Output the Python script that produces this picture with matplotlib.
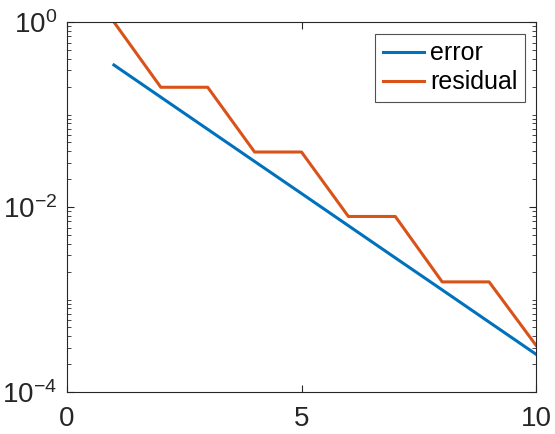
import matplotlib
matplotlib.use("Agg")
import matplotlib.pyplot as plt
from matplotlib.ticker import FixedLocator, NullFormatter

plt.rcParams['font.family'] = ['Liberation Sans', 'DejaVu Sans']
plt.rcParams['mathtext.fontset'] = 'custom'
plt.rcParams['mathtext.rm'] = 'Liberation Sans'
plt.rcParams['mathtext.it'] = 'Liberation Sans'
plt.rcParams['axes.unicode_minus'] = False

# data
iterations = [1, 2, 3, 4, 5, 6, 7, 8, 9, 10]
error_vals = [0.343, 0.154, 0.0692, 0.0311, 0.0140, 0.00628, 0.00282, 0.00127, 0.000570, 0.000256]
residual_vals = [1.0, 0.197, 0.197, 0.0393, 0.0393, 0.0079, 0.0079, 0.00155, 0.00155, 0.00032]

x_ticks = [0, 5, 10]
y_ticks = [1e-4, 1e-2, 1e0]
y_labels = ['$10^{-4}$', '$10^{-2}$', '$10^{0}$']

blue = '#0072BD'
orange = '#D95319'
axis_col = '#262626'

fig = plt.figure(figsize=(5.55, 4.34), dpi=100)
ax = fig.add_axes([67 / 555, 1 - 392 / 434, (536 - 67) / 555, (392 - 22) / 434])

ax.plot(iterations, error_vals, color=blue, lw=2.2, label='error')
ax.plot(iterations, residual_vals, color=orange, lw=2.2, label='residual')

ax.set_yscale('log')
ax.set_xlim(0, 10)
ax.set_ylim(1e-4, 1e0)

ax.set_xticks(x_ticks)
ax.set_xticklabels([str(t) for t in x_ticks])
ax.set_yticks(y_ticks)
ax.set_yticklabels(y_labels)
minor = [m * 10.0 ** e for e in range(-4, 0) for m in range(1, 10) if not (m == 1 and e % 2 == 0)]
ax.yaxis.set_minor_locator(FixedLocator(minor))
ax.yaxis.set_minor_formatter(NullFormatter())

ax.tick_params(axis='both', which='both', direction='in', top=True, right=True,
               color=axis_col, labelcolor='#262626', labelsize=20)
ax.tick_params(axis='both', which='major', length=5, width=0.8)
ax.tick_params(axis='both', which='minor', length=3, width=0.6)
ax.tick_params(axis='x', pad=10)
ax.tick_params(axis='y', pad=7)
for s in ax.spines.values():
    s.set_color(axis_col)
    s.set_linewidth(0.8)

leg = ax.legend(loc='upper right', fontsize=18, frameon=True, fancybox=False,
                handlelength=1.65, handletextpad=0.25, borderpad=0.3, labelspacing=0.2,
                borderaxespad=0, bbox_to_anchor=(0.9765, 0.9676))
leg.get_frame().set_edgecolor(axis_col)
leg.get_frame().set_linewidth(0.8)

fig.savefig('out.png', dpi=100)
